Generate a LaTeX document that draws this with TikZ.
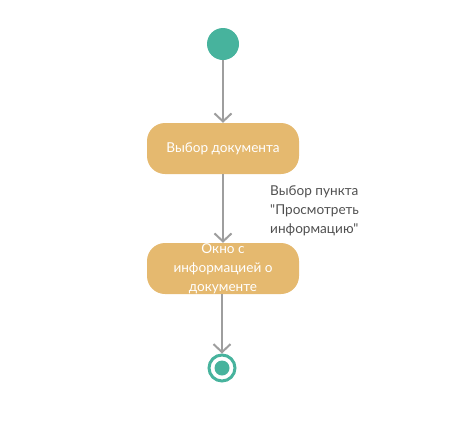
\documentclass[tikz,border=0pt]{standalone}
\usepackage{fontspec}
\setmainfont{Lato}[Ligatures=TeXOff]
\usetikzlibrary{arrows.meta}
\definecolor{teal}{HTML}{47B39D}
\definecolor{boxfill}{HTML}{E5B96F}
\definecolor{flow}{HTML}{9E9E9E}
\definecolor{labelgray}{HTML}{505050}
\begin{document}
\begin{tikzpicture}[x=1pt,y=-1pt,
  action/.style={fill=boxfill, draw=none, rounded corners=18pt,
    minimum width=152pt, minimum height=51pt, inner sep=0pt,
    text=white, font=\fontsize{13.6}{19}\selectfont, align=center},
  flowline/.style={draw=flow, line width=2pt,
    -{Straight Barb[length=8pt,width=17pt,line width=2pt]}},
  guard/.style={text=labelgray, font=\fontsize{13.6}{19}\selectfont,
    align=left, anchor=north west, inner sep=0pt}]
  \useasboundingbox (0,0) rectangle (454,429);
  % initial node
  \node[circle, fill=teal, minimum size=32pt, inner sep=0pt] (start) at (223,44) {};
  % actions
  \node[action] (choose) at (223,148.5) {\raisebox{-1.5pt}{Выбор документа}};
  \node[action] (info) at (223,268.5) {\raisebox{3pt}{\parbox{150pt}{\centering Окно с\\информацией о\\документе}}};
  % final node
  \node[circle, draw=teal, line width=3pt, minimum size=26pt, inner sep=0pt] (final) at (222,368) {};
  \fill[teal] (final.center) circle (7.5pt);
  % transitions
  \draw[flowline] (start) -- (choose);
  \draw[flowline] (choose) -- (info);
  \draw[flowline] (info.south -| final) -- (final.north);
  \node[guard] (cond) at (270,185) {Выбор пункта\\"Просмотреть\\информацию"};
\end{tikzpicture}
\end{document}
